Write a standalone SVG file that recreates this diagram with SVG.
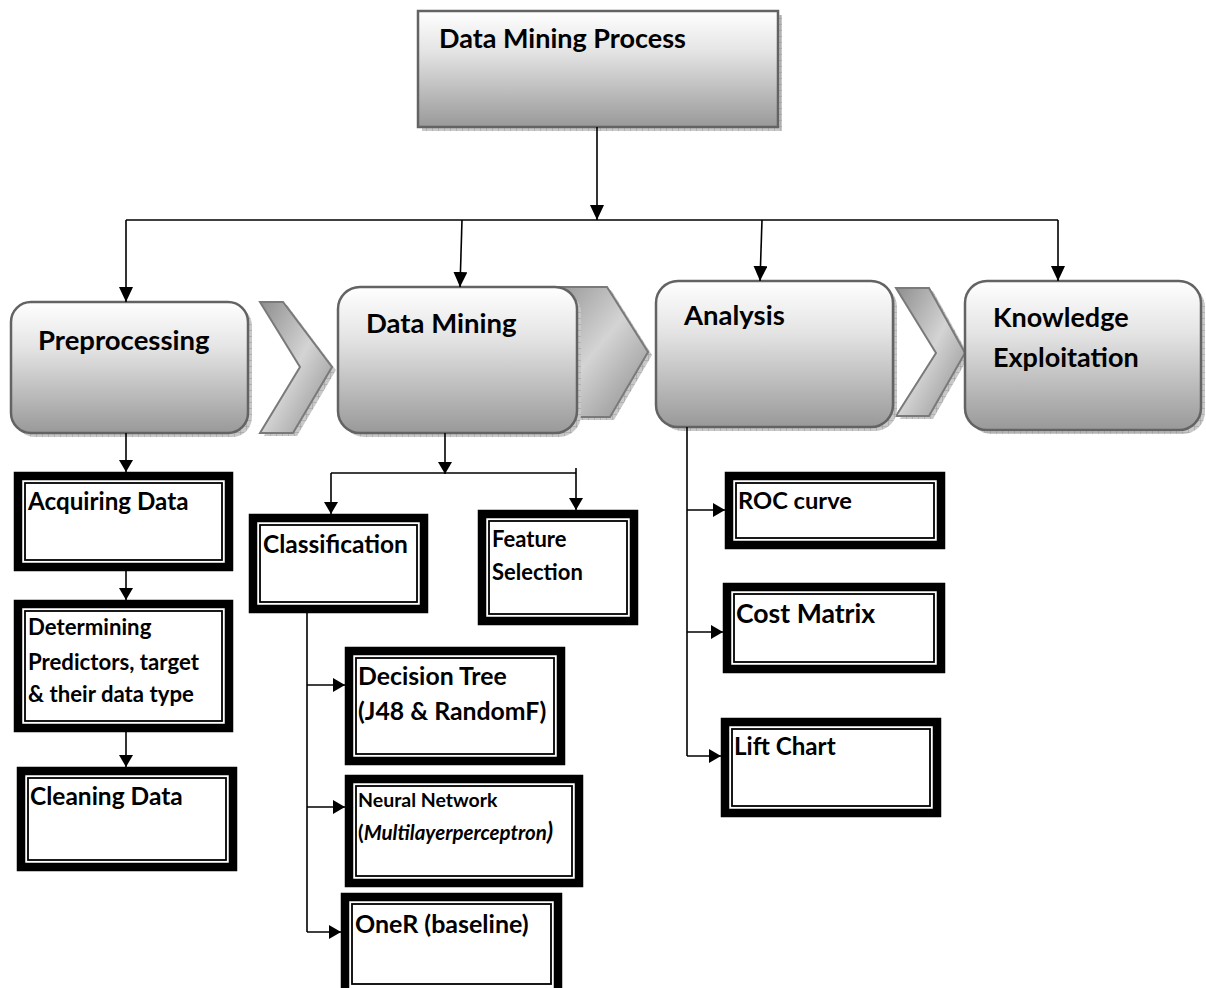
<svg xmlns="http://www.w3.org/2000/svg" width="1206" height="988" viewBox="0 0 1206 988">
<defs>
<linearGradient id="gbox" x1="0" y1="0" x2="0" y2="1">
<stop offset="0" stop-color="#ffffff"/>
<stop offset="0.35" stop-color="#e4e4e4"/>
<stop offset="1" stop-color="#999999"/>
</linearGradient>
<linearGradient id="gchev" x1="0" y1="0" x2="1" y2="1">
<stop offset="0" stop-color="#8e8e8e"/>
<stop offset="0.5" stop-color="#d4d4d4"/>
<stop offset="1" stop-color="#8a8a8a"/>
</linearGradient>
<pattern id="hatch" width="6" height="6" patternUnits="userSpaceOnUse">
<rect width="6" height="6" fill="#c8c8c8"/>
<path d="M0,0H6M0,0V6" stroke="#9a9a9a" stroke-width="1"/>
</pattern>
<marker id="ah" markerUnits="userSpaceOnUse" markerWidth="15" markerHeight="14" refX="15" refY="7" orient="auto">
<path d="M0,0 L15,7 L0,14 Z" fill="#000"/>
</marker>
<marker id="as" markerUnits="userSpaceOnUse" markerWidth="12" markerHeight="14" refX="12" refY="7" orient="auto">
<path d="M0,0 L12,7 L0,14 Z" fill="#000"/>
</marker>
</defs>
<style>
.sh{fill:url(#hatch)}
.bx{fill:url(#gbox);stroke:#636363;stroke-width:2.5}
.ch{fill:url(#gchev);stroke:#7a7a7a;stroke-width:2}
.chs{fill:url(#hatch)}
.ob{fill:#fff;stroke:#000;stroke-width:8.5}
.ib{fill:none;stroke:#000;stroke-width:1.8}
.t{font-family:Lato,"Liberation Sans",sans-serif;font-weight:bold;fill:#000}
.c{fill:none;stroke:#000;stroke-width:1.6}
.ca{fill:none;stroke:#000;stroke-width:1.6;marker-end:url(#ah)}
.cs{fill:none;stroke:#000;stroke-width:1.6;marker-end:url(#as)}
</style>
<rect width="1206" height="988" fill="#fff"/>

<g id="chevrons">
<path class="chs" d="M264,305 L287,305 L336,370 L297,436 L264,436 L304,370 Z"/>
<path class="ch" d="M260,302 L283,302 L332,367 L293,433 L260,433 L300,367 Z"/>
<path class="chs" d="M545,290 L611,290 L652,355 L614,420 L545,420 L580,355 Z"/>
<path class="ch" d="M541,287 L607,287 L648,352 L610,417 L541,417 L576,352 Z"/>
<path class="chs" d="M900,291 L933,291 L969,356 L933,419 L900,419 L940,356 Z"/>
<path class="ch" d="M896,288 L929,288 L965,353 L929,416 L896,416 L936,353 Z"/>
</g>

<g id="n-process">
<rect class="sh" x="422" y="15" width="360" height="116"/>
<rect class="bx" x="418" y="11" width="360" height="116"/>
<text class="t" x="439" y="48" font-size="27">Data Mining Process</text>
</g>
<g id="n-preprocessing">
<rect class="sh" x="15" y="306" width="237" height="131" rx="20"/>
<rect class="bx" x="11" y="302" width="237" height="131" rx="20"/>
<text class="t" x="38" y="350" font-size="27.5">Preprocessing</text>
</g>
<g id="n-datamining">
<rect class="sh" x="342" y="291" width="239" height="146" rx="22"/>
<rect class="bx" x="338" y="287" width="239" height="146" rx="22"/>
<text class="t" x="366" y="333" font-size="27.5">Data Mining</text>
</g>
<g id="n-analysis">
<rect class="sh" x="660" y="285" width="237" height="146" rx="22"/>
<rect class="bx" x="656" y="281" width="237" height="146" rx="22"/>
<text class="t" x="684" y="325" font-size="27.5">Analysis</text>
</g>
<g id="n-knowledge">
<rect class="sh" x="969" y="285" width="236" height="149" rx="22"/>
<rect class="bx" x="965" y="281" width="236" height="149" rx="22"/>
<text class="t" x="993" y="327" font-size="27">Knowledge</text>
<text class="t" x="993" y="367" font-size="27">Exploitation</text>
</g>

<g id="n-acquiring">
<rect class="ob" x="18" y="476" width="211" height="91"/>
<rect class="ib" x="25" y="483" width="197" height="77"/>
<text class="t" x="28" y="510" font-size="24.2">Acquiring Data</text>
</g>
<g id="n-determining">
<rect class="ob" x="18" y="604" width="211" height="124"/>
<rect class="ib" x="25" y="611" width="197" height="110"/>
<text class="t" x="28" y="635" font-size="22.2">Determining</text>
<text class="t" x="28" y="670" font-size="22.2">Predictors, target</text>
<text class="t" x="28" y="702" font-size="22.2">&amp; their data type</text>
</g>
<g id="n-cleaning">
<rect class="ob" x="21" y="771" width="212" height="96"/>
<rect class="ib" x="28" y="778" width="198" height="82"/>
<text class="t" x="30" y="805" font-size="24.5">Cleaning Data</text>
</g>
<g id="n-classification">
<rect class="ob" x="253" y="518" width="171" height="91"/>
<rect class="ib" x="260" y="525" width="157" height="77"/>
<text class="t" x="263" y="553" font-size="24.5">Classification</text>
</g>
<g id="n-feature">
<rect class="ob" x="482" y="514" width="152" height="107"/>
<rect class="ib" x="489" y="521" width="138" height="93"/>
<text class="t" x="492" y="547" font-size="22">Feature</text>
<text class="t" x="492" y="580" font-size="22">Selection</text>
</g>
<g id="n-decision">
<rect class="ob" x="349" y="651" width="212" height="110"/>
<rect class="ib" x="356" y="658" width="198" height="96"/>
<text class="t" x="358" y="685" font-size="24.8">Decision Tree</text>
<text class="t" x="358" y="720" font-size="24.8">(J48 &amp; RandomF)</text>
</g>
<g id="n-neural">
<rect class="ob" x="349" y="779" width="230" height="104"/>
<rect class="ib" x="356" y="786" width="216" height="90"/>
<text class="t" x="358" y="807" font-size="19.5">Neural Network</text>
<text class="t" x="358" y="840" font-size="20.5">(<tspan font-style="italic">Multilayerperceptron</tspan><tspan font-style="italic" font-size="24">)</tspan></text>
</g>
<g id="n-oner">
<rect class="ob" x="345" y="897" width="213" height="96"/>
<rect class="ib" x="352" y="904" width="199" height="80"/>
<text class="t" x="355" y="933" font-size="25">OneR (baseline)</text>
</g>
<g id="n-roc">
<rect class="ob" x="729" y="476" width="212" height="69"/>
<rect class="ib" x="736" y="483" width="198" height="55"/>
<text class="t" x="738" y="509" font-size="23.7">ROC curve</text>
</g>
<g id="n-cost">
<rect class="ob" x="727" y="587" width="214" height="82"/>
<rect class="ib" x="734" y="594" width="200" height="68"/>
<text class="t" x="736" y="623" font-size="26.6">Cost Matrix</text>
</g>
<g id="n-lift">
<rect class="ob" x="725" y="722" width="212" height="91"/>
<rect class="ib" x="732" y="729" width="198" height="77"/>
<text class="t" x="734" y="755" font-size="24.2">Lift Chart</text>
</g>

<g id="connectors">
<path class="ca" d="M597,127 V220"/>
<path class="c" d="M126,220 H1058"/>
<path class="ca" d="M126,220 V302"/>
<path class="ca" d="M462,220 L460,287"/>
<path class="ca" d="M762,220 L760,281"/>
<path class="ca" d="M1058,220 V281"/>
<path class="cs" d="M126,433 V472"/>
<path class="cs" d="M126,571 V600"/>
<path class="cs" d="M126,732 V767"/>
<path class="cs" d="M445,433 V474"/>
<path class="c" d="M331,473 H576"/>
<path class="cs" d="M331,473 V514"/>
<path class="cs" d="M576,468 V510"/>
<path class="c" d="M307,613 V932"/>
<path class="cs" d="M307,685 H345"/>
<path class="cs" d="M307,807 H345"/>
<path class="cs" d="M307,932 H341"/>
<path class="c" d="M687,427 V756"/>
<path class="cs" d="M687,510 H725"/>
<path class="cs" d="M687,632 H723"/>
<path class="cs" d="M687,756 H721"/>
</g>
</svg>
